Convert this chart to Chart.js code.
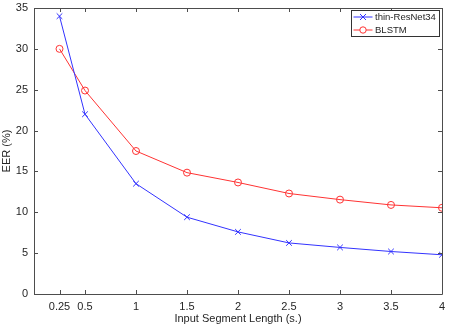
<!DOCTYPE html>
<html>
<head>
<meta charset="utf-8">
<script src="https://cdn.jsdelivr.net/npm/chart.js@4/dist/chart.umd.min.js"></script>
<style>
html, body { margin: 0; padding: 0; background: #fff; }
#wrap { width: 457px; height: 326px; }
</style>
</head>
<body>
<div id="wrap"><canvas id="myChart" width="457" height="326"></canvas></div>
<script>
// segment lengths (s.)
var segLen = [0.25, 0.5, 1, 1.5, 2, 2.5, 3, 3.5, 4];
// EER values
var resnetEER = [34, 22, 13.5, 9.4, 7.6, 6.25, 5.7, 5.2, 4.8];
var blstmEER = [30, 24.9, 17.5, 14.85, 13.65, 12.3, 11.55, 10.9, 10.55];
var xTicks = [0.25, 0.5, 1, 1.5, 2, 2.5, 3, 3.5, 4];
var yTicks = [0, 5, 10, 15, 20, 25, 30, 35];

var axisColor = '#4d4d4d';
var textColor = '#262626';
var fontFamily = '"Liberation Sans", Arial, sans-serif';

function toPoints(xs, ys) {
  return xs.map(function(x, i) { return { x: x, y: ys[i] }; });
}

// MATLAB-like box with inward ticks plus legend box
var boxPlugin = {
  id: 'box',
  afterDraw: function(chart) {
    var ctx = chart.ctx;
    var a = chart.chartArea;
    var xs = chart.scales.x, ys = chart.scales.y;
    ctx.save();
    ctx.strokeStyle = axisColor;
    ctx.lineWidth = 1;
    ctx.beginPath();
    ctx.rect(Math.round(a.left) + 0.5, Math.round(a.top) + 0.5,
      Math.round(a.right - a.left), Math.round(a.bottom - a.top));
    ctx.stroke();
    var t = 4;
    ctx.beginPath();
    xTicks.forEach(function(v) {
      var px = Math.round(xs.getPixelForValue(v)) + 0.5;
      ctx.moveTo(px, a.bottom); ctx.lineTo(px, a.bottom - t);
      ctx.moveTo(px, a.top); ctx.lineTo(px, a.top + t);
    });
    yTicks.forEach(function(v) {
      var py = Math.round(ys.getPixelForValue(v)) + 0.5;
      ctx.moveTo(a.left, py); ctx.lineTo(a.left + t, py);
      ctx.moveTo(a.right, py); ctx.lineTo(a.right - t, py);
    });
    ctx.stroke();

    // legend
    var lx = 351.5, ly = 10.5, lw = 88, lh = 26;
    ctx.fillStyle = '#fff';
    ctx.fillRect(lx, ly, lw, lh);
    ctx.strokeStyle = '#333';
    ctx.strokeRect(lx, ly, lw, lh);
    // fit the longest label into the box
    ctx.font = '11px ' + fontFamily;
    var w = ctx.measureText(chart.data.datasets[0].label).width;
    var size = Math.min(11, 11 * 61 / w);
    ctx.font = size.toFixed(2) + 'px ' + fontFamily;
    ctx.textBaseline = 'middle';
    chart.data.datasets.forEach(function(ds, i) {
      var cy = ly + 6.5 + i * 13;
      ctx.strokeStyle = ds.borderColor;
      ctx.beginPath();
      ctx.moveTo(lx + 2, cy); ctx.lineTo(lx + 21, cy);
      ctx.stroke();
      ctx.beginPath();
      if (ds.pointStyle === 'crossRot') {
        ctx.moveTo(lx + 8.5, cy - 3); ctx.lineTo(lx + 14.5, cy + 3);
        ctx.moveTo(lx + 14.5, cy - 3); ctx.lineTo(lx + 8.5, cy + 3);
      } else {
        ctx.arc(lx + 11.5, cy, 3.2, 0, Math.PI * 2);
        ctx.fillStyle = '#fff';
        ctx.fill();
      }
      ctx.stroke();
      ctx.fillStyle = textColor;
      ctx.fillText(ds.label, lx + 23.5, cy + 0.5);
    });
    ctx.restore();
  }
};

new Chart('myChart', {
  type: 'line',
  data: {
    datasets: [{
      label: 'thin-ResNet34',
      data: toPoints(segLen, resnetEER),
      borderColor: '#3333ff',
      backgroundColor: 'transparent',
      borderWidth: 1,
      pointStyle: 'crossRot',
      pointRadius: 4,
      pointBorderWidth: 1,
      pointBorderColor: '#3333ff',
      tension: 0
    }, {
      label: 'BLSTM',
      data: toPoints(segLen, blstmEER),
      borderColor: '#ff3333',
      backgroundColor: 'transparent',
      borderWidth: 1,
      pointStyle: 'circle',
      pointRadius: 3.5,
      pointBorderWidth: 1,
      pointBorderColor: '#ff3333',
      pointBackgroundColor: 'rgba(255,255,255,0)',
      tension: 0
    }]
  },
  options: {
    responsive: false,
    animation: false,
    layout: { padding: { left: 0, right: 15, top: 8, bottom: 0 } },
    plugins: {
      legend: { display: false },
      tooltip: { enabled: false }
    },
    scales: {
      x: {
        type: 'linear',
        min: 0,
        max: 4,
        afterFit: function(s) { s.height = 32; s.paddingLeft = 0; s.paddingRight = 0; },
        afterBuildTicks: function(s) {
          s.ticks = xTicks.map(function(v) { return { value: v }; });
        },
        grid: { display: false, drawTicks: false },
        border: { display: false },
        ticks: {
          color: textColor,
          padding: 6,
          maxRotation: 0,
          autoSkip: false,
          font: { family: fontFamily, size: 11 },
          callback: function(v) { return String(v); }
        },
        title: {
          display: true,
          text: 'Input Segment Length (s.)',
          color: textColor,
          padding: { top: 1, bottom: 0 },
          font: { family: fontFamily, size: 11 }
        }
      },
      y: {
        min: 0,
        max: 35,
        afterFit: function(s) { s.width = 34; s.paddingTop = 0; s.paddingBottom = 0; },
        afterBuildTicks: function(s) {
          s.ticks = yTicks.map(function(v) { return { value: v }; });
        },
        grid: { display: false, drawTicks: false },
        border: { display: false },
        ticks: {
          color: textColor,
          padding: 6,
          font: { family: fontFamily, size: 11 }
        },
        title: {
          display: true,
          text: 'EER (%)',
          color: textColor,
          padding: { top: 0, bottom: 0 },
          font: { family: fontFamily, size: 11 }
        }
      }
    }
  },
  plugins: [boxPlugin]
});
</script>
</body>
</html>
